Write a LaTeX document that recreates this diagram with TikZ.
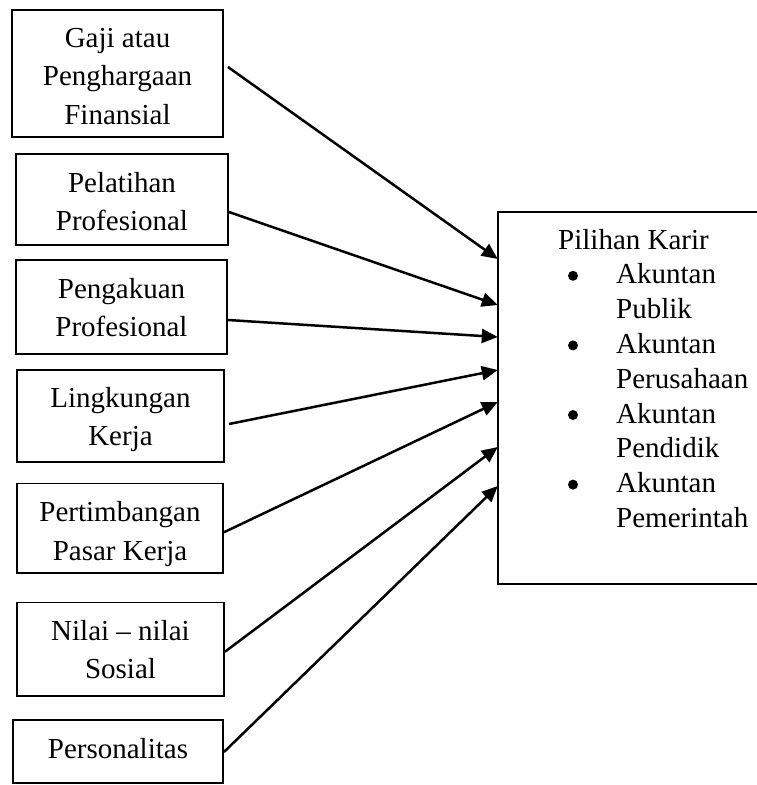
\documentclass[tikz,border=0pt]{standalone}
\usepackage{fontspec}
\setmainfont{Liberation Serif}
\usetikzlibrary{arrows.meta}
\begin{document}
\begin{tikzpicture}[x=1pt,y=-1pt,
  box/.style={draw, line width=1.9pt, inner sep=0pt},
  txt/.style={anchor=base, inner sep=0pt, font=\fontsize{29}{35}\selectfont},
  conn/.style={line width=2.5pt, -{Triangle[length=16pt,width=14pt]}},
  lbl/.style={anchor=base west, inner sep=0pt, font=\fontsize{29}{35}\selectfont},
  dot/.style={circle, fill, inner sep=0pt, minimum size=10pt}]
\useasboundingbox (0,0) rectangle (757,785);
% left boxes
\node[box, minimum width=211pt, minimum height=127pt] (b1) at (117.5,73.5) {};
\node[box, minimum width=212pt, minimum height=91pt] (b2) at (122,199.5) {};
\node[box, minimum width=211pt, minimum height=94pt] (b3) at (121.5,307) {};
\node[box, minimum width=207pt, minimum height=92pt] (b4) at (120.5,416) {};
\node[box, minimum width=206pt, minimum height=89.5pt] (b5) at (120,528.25) {};
\node[box, minimum width=207pt, minimum height=93.5pt] (b6) at (120.5,649.25) {};
\node[box, minimum width=210pt, minimum height=63pt] (b7) at (118,751.5) {};
% left texts
\node[txt] (b1a) at (117.5,47) {Gaji atau};
\node[txt] (b1b) at (117.5,85.5) {Penghargaan};
\node[txt] (b1c) at (117.5,124) {Finansial};
\node[txt] (b2a) at (122,192) {Pelatihan};
\node[txt] (b2b) at (122,230.5) {Profesional};
\node[txt] (b3a) at (121.5,298) {Pengakuan};
\node[txt] (b3b) at (121.5,336.5) {Profesional};
\node[txt] (b4a) at (120.5,407) {Lingkungan};
\node[txt] (b4b) at (120.5,445.5) {Kerja};
\node[txt] (b5a) at (120,521.5) {Pertimbangan};
\node[txt] (b5b) at (120,560) {Pasar Kerja};
\node[txt] (b6a) at (120.5,640) {Nilai -- nilai};
\node[txt] (b6b) at (120.5,678.5) {Sosial};
\node[txt] (b7a) at (118,758) {Personalitas};
% right box (right side cut off)
\node[minimum width=259pt, minimum height=372pt, inner sep=0pt] (r) at (627.5,398) {};
\draw[line width=1.9pt] (r.north east) -- (r.north west) -- (r.south west) -- (r.south east);
% right box text
\node[lbl] (t0) at (558,249) {Pilihan Karir};
\node[lbl] (t1) at (616,283.8) {Akuntan};
\node[lbl] (t2) at (616,318.6) {Publik};
\node[lbl] (t3) at (616,353.4) {Akuntan};
\node[lbl] (t4) at (616,388.2) {Perusahaan};
\node[lbl] (t5) at (616,423) {Akuntan};
\node[lbl] (t6) at (616,457.8) {Pendidik};
\node[lbl] (t7) at (616,492.6) {Akuntan};
\node[lbl] (t8) at (616,527.4) {Pemerintah};
\node[dot] (d1) at (573,275.8) {};
\node[dot] (d2) at (573,345.4) {};
\node[dot] (d3) at (573,415) {};
\node[dot] (d4) at (573,484.6) {};
% connectors
\draw[conn] ([shift={(4,-6.5)}]b1.east) -- ([shift={(0,-139)}]r.west);
\draw[conn] ([shift={(0,12.5)}]b2.east) -- ([shift={(0,-93)}]r.west);
\draw[conn] ([shift={(0,13)}]b3.east) -- ([shift={(0,-61)}]r.west);
\draw[conn] ([shift={(4,8)}]b4.east) -- ([shift={(0,-28)}]r.west);
\draw[conn] ([shift={(0,4)}]b5.east) -- ([shift={(0,4)}]r.west);
\draw[conn] ([shift={(0,2.5)}]b6.east) -- ([shift={(0,49)}]r.west);
\draw[conn] ([shift={(0,0.5)}]b7.east) -- ([shift={(0,88)}]r.west);
\end{tikzpicture}
\end{document}
